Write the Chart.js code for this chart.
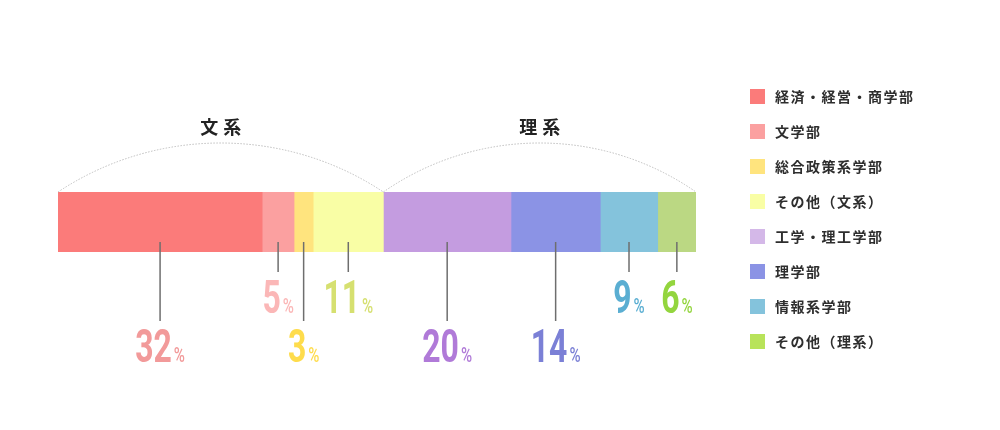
<!DOCTYPE html>
<html lang="ja">
<head>
<meta charset="utf-8">
<title>学部系統別の割合</title>
<script src="https://cdn.jsdelivr.net/npm/chart.js@4/dist/chart.umd.min.js"></script>
<style>
    html, body { margin: 0; padding: 0; background: #fff; }
    #wrap { width: 1000px; height: 430px; }
</style>
</head>
<body>
<div id="wrap"><canvas id="shareChart" width="1000" height="430"></canvas></div>
<script>
const CATEGORIES = ['経済・経営・商学部', '文学部', '総合政策系学部', 'その他（文系）', '工学・理工学部', '理学部', '情報系学部', 'その他（理系）'];
const SHARES = [32, 5, 3, 11, 20, 14, 9, 6];
const GROUPS = ['文系', '理系'];
const GROUP_SIZES = [4, 4];

const BAR_COLORS = ['#fb7b7a', '#fba0a0', '#ffe47e', '#f9fea5', '#c49ce0', '#8b93e5', '#84c3dc', '#bbd883'];
const LEGEND_COLORS = ['#fb7b7a', '#fba0a0', '#ffe47e', '#f9fea5', '#d4b8e8', '#8b93e5', '#84c3dc', '#b8e35a'];
const LABEL_COLORS = ['#f29a9a', '#fbb7b7', '#fedc4c', '#d6e070', '#b07ad8', '#7b80d6', '#5aaed2', '#93d53e'];
// label row for each slice: true = lower row
const LOW_ROW = [true, false, true, false, true, true, false, false];

function drawPercent(ctx, x, baseline, value, color) {
    const num = String(value);
    const numFont = 'bold 47px Roboto';
    const pctFont = '500 21px Roboto';
    const sx = 0.68;
    const px = 0.72;
    ctx.save();
    ctx.fillStyle = color;
    ctx.textBaseline = 'alphabetic';
    ctx.textAlign = 'left';
    ctx.font = numFont;
    const numW = ctx.measureText(num).width * sx;
    ctx.font = pctFont;
    const pctW = ctx.measureText('%').width * px;
    const left = x - (numW + 2 + pctW) / 2;

    ctx.save();
    ctx.translate(left, baseline);
    ctx.scale(sx, 1);
    ctx.font = numFont;
    ctx.fillText(num, 0, 0);
    ctx.restore();

    ctx.save();
    ctx.translate(left + numW + 2, baseline);
    ctx.scale(px, 1);
    ctx.font = pctFont;
    ctx.fillText('%', 0, 0);
    ctx.restore();
    ctx.restore();
}

const decorations = {
    id: 'decorations',
    afterDraw(chart) {
        const ctx = chart.ctx;
        const area = chart.chartArea;
        const bars = chart.data.datasets.map((d, i) => chart.getDatasetMeta(i).data[0]);

        // group arcs and titles
        let start = 0;
        GROUPS.forEach((name, g) => {
            const x0 = bars[start].base;
            const x1 = bars[start + GROUP_SIZES[g] - 1].x;
            start += GROUP_SIZES[g];
            const half = (x1 - x0) / 2;
            const mid = x0 + half;
            const sag = 49;
            const r = (half * half + sag * sag) / (2 * sag);
            const a = Math.asin(half / r);
            ctx.save();
            ctx.strokeStyle = '#bdbdbd';
            ctx.lineWidth = 1;
            ctx.setLineDash([1.5, 1.5]);
            ctx.beginPath();
            ctx.arc(mid, area.top - sag + r, r, -Math.PI / 2 - a, -Math.PI / 2 + a);
            ctx.stroke();
            ctx.restore();

            ctx.save();
            ctx.fillStyle = '#222';
            ctx.font = 'bold 18px "Noto Sans CJK JP"';
            ctx.letterSpacing = '5px';
            ctx.textAlign = 'center';
            ctx.textBaseline = 'middle';
            ctx.fillText(name, mid + 2.5, 127);
            ctx.restore();
        });

        // leader lines and percent labels
        bars.forEach((bar, i) => {
            const cx = (bar.base + bar.x) / 2;
            const low = LOW_ROW[i];
            ctx.save();
            ctx.strokeStyle = '#6e6e6e';
            ctx.lineWidth = 1.5;
            ctx.beginPath();
            ctx.moveTo(cx, area.bottom - 10);
            ctx.lineTo(cx, low ? 321 : 272);
            ctx.stroke();
            ctx.restore();
            drawPercent(ctx, cx, low ? 362 : 313, chart.data.datasets[i].data[0], LABEL_COLORS[i]);
        });

        // legend
        ctx.save();
        CATEGORIES.forEach((label, i) => {
            const y = 89 + i * 35;
            ctx.fillStyle = LEGEND_COLORS[i];
            ctx.fillRect(750, y, 15, 15);
            ctx.fillStyle = '#2e2e2e';
            ctx.font = 'bold 14px "Noto Sans CJK JP"';
            ctx.letterSpacing = '1.5px';
            ctx.textAlign = 'left';
            ctx.textBaseline = 'middle';
            ctx.fillText(label, 775, y + 8);
        });
        ctx.restore();
    }
};

new Chart(document.getElementById('shareChart'), {
    type: 'bar',
    data: {
        labels: [''],
        datasets: CATEGORIES.map((c, i) => ({
            label: c,
            data: [SHARES[i]],
            backgroundColor: BAR_COLORS[i],
            borderWidth: 0,
            barPercentage: 1,
            categoryPercentage: 1
        }))
    },
    options: {
        indexAxis: 'y',
        responsive: false,
        animation: false,
        layout: { padding: { left: 58, right: 304, top: 192, bottom: 178 } },
        scales: {
            x: { stacked: true, min: 0, max: 100, display: false },
            y: { stacked: true, display: false }
        },
        plugins: {
            legend: { display: false },
            tooltip: { enabled: false }
        }
    },
    plugins: [decorations]
});
</script>
</body>
</html>
